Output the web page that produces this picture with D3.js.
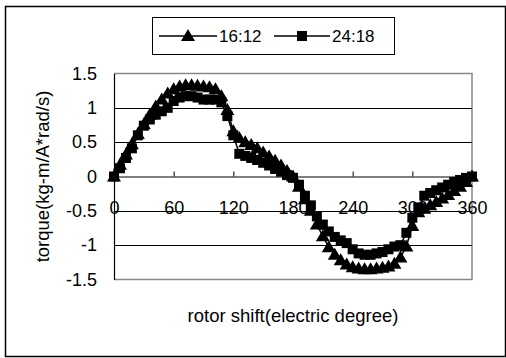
<!DOCTYPE html>
<html>
<head>
<meta charset="utf-8">
<script src="https://cdn.jsdelivr.net/npm/d3@7"></script>
<style>
  body { margin: 0; background: #fff; }
  svg text { font-family: "Liberation Sans", Arial, sans-serif; fill: #000; }
</style>
</head>
<body>
<div id="chart-area"></div>
<script>
// rotor shift in electric degrees (one sample every 6 deg)
let degrees = [0, 6, 12, 18, 24, 30, 36, 42, 48, 54, 60, 66, 72, 78, 84, 90, 96, 102, 108, 114,
	120, 126, 132, 138, 144, 150, 156, 162, 168, 174, 180, 186, 192, 198, 204, 210, 216, 222, 228, 234,
	240, 246, 252, 258, 264, 270, 276, 282, 288, 294, 300, 306, 312, 318, 324, 330, 336, 342, 348, 354, 360];

// torque values
let torque1612 = [0, 0.17, 0.32, 0.47, 0.62, 0.76, 0.9, 1.02, 1.12, 1.21, 1.27, 1.31, 1.33, 1.33, 1.32, 1.31, 1.3, 1.27, 1.17, 0.97,
	0.66, 0.56, 0.5, 0.46, 0.41, 0.35, 0.29, 0.23, 0.16, 0.08, 0, -0.15, -0.33, -0.5, -0.7, -0.87, -1.03, -1.14, -1.22, -1.28,
	-1.32, -1.34, -1.35, -1.35, -1.34, -1.33, -1.31, -1.27, -1.18, -1.02, -0.72, -0.52, -0.47, -0.42, -0.37, -0.32, -0.27, -0.21, -0.15, -0.08, 0];

let torque2418 = [0, 0.12, 0.27, 0.41, 0.6, 0.74, 0.83, 0.9, 0.95, 1.0, 1.1, 1.15, 1.17, 1.17, 1.15, 1.12, 1.12, 1.12, 1.08, 0.88,
	0.6, 0.33, 0.3, 0.27, 0.24, 0.2, 0.16, 0.11, 0.07, 0.02, -0.02, -0.12, -0.28, -0.42, -0.58, -0.7, -0.8, -0.88, -0.93, -0.97,
	-1.06, -1.12, -1.14, -1.14, -1.12, -1.1, -1.06, -1.02, -1.0, -0.82, -0.6, -0.45, -0.28, -0.24, -0.2, -0.16, -0.12, -0.08, -0.05, -0.02, 0];

let seriesNames = ["16:12", "24:18"];
let xTicks = [0, 60, 120, 180, 240, 300, 360];
let yTicks = [-1.5, -1, -0.5, 0, 0.5, 1, 1.5];
let gridValues = [-1, -0.5, 0.5, 1];

let W = 506, H = 358;
let plot = {left: 114, right: 472, top: 73.5, bottom: 279.5};

let svg = d3.select("#chart-area").append("svg")
	.attr("width", W)
	.attr("height", H);

// outer frame
svg.append("rect")
	.attr("x", 5.5).attr("y", 6.5)
	.attr("width", 500).attr("height", 350)
	.attr("fill", "none")
	.attr("stroke", "#000")
	.attr("stroke-width", 1.5);

let xScale = d3.scaleLinear().domain([0, 360]).range([plot.left, plot.right]);
let yScale = d3.scaleLinear().domain([-1.5, 1.5]).range([plot.bottom, plot.top]);

// gray plot border (top, right, bottom)
svg.append("path")
	.attr("d", `M${plot.left},${plot.top}H${plot.right}V${plot.bottom}H${plot.left}`)
	.attr("fill", "none")
	.attr("stroke", "#888")
	.attr("stroke-width", 1.5);

// gridlines
svg.selectAll(".grid")
	.data(gridValues)
	.enter().append("line")
	.attr("class", "grid")
	.attr("x1", plot.left).attr("x2", plot.right)
	.attr("y1", d => Math.round(yScale(d)) + 0.5)
	.attr("y2", d => Math.round(yScale(d)) + 0.5)
	.attr("stroke", "#000")
	.attr("stroke-width", 1);

// y axis (labels only + black line)
let yAxis = d3.axisLeft(yScale)
	.tickValues(yTicks)
	.tickSize(0)
	.tickPadding(17)
	.tickFormat(d3.format("~g"));

let yGroup = svg.append("g")
	.attr("transform", `translate(${plot.left},0)`)
	.call(yAxis);
yGroup.select(".domain").attr("stroke", "#000").attr("stroke-width", 1.2);
yGroup.selectAll("text")
	.attr("font-size", 18)
	.attr("font-family", "Liberation Sans, Arial, sans-serif")
	.text(d => d3.format("~g")(d).replace("−", "-"));

// x axis sits on zero, ticks point up, labels hang below
let xAxis = d3.axisBottom(xScale)
	.tickValues(xTicks)
	.tickSizeInner(-5)
	.tickSizeOuter(0)
	.tickPadding(25)
	.tickFormat(d3.format("d"));

let xGroup = svg.append("g")
	.attr("transform", `translate(0,${yScale(0)})`)
	.call(xAxis);
xGroup.select(".domain").attr("stroke", "#000").attr("stroke-width", 1.2);
xGroup.selectAll(".tick line").attr("stroke", "#000");
xGroup.selectAll("text")
	.attr("font-size", 18)
	.attr("font-family", "Liberation Sans, Arial, sans-serif");

// series
let series = [
	{name: seriesNames[0], values: torque1612, marker: "M0,-7L7,5L-7,5Z"},
	{name: seriesNames[1], values: torque2418, marker: "M-5,-5H5V5H-5Z"}
];

let line = d3.line()
	.x((d, i) => xScale(degrees[i]))
	.y(d => yScale(d));

series.forEach(s => {
	svg.append("path")
		.attr("d", line(s.values))
		.attr("fill", "none")
		.attr("stroke", "#000")
		.attr("stroke-width", 1.5);
});

series.slice().reverse().forEach(s => {
	svg.append("g").selectAll("path")
		.data(s.values)
		.enter().append("path")
		.attr("d", s.marker)
		.attr("transform", (d, i) => `translate(${xScale(degrees[i])},${yScale(d)})`)
		.attr("fill", "#000");
});

// axis titles
svg.append("text")
	.attr("x", (plot.left + plot.right) / 2)
	.attr("y", 322)
	.attr("text-anchor", "middle")
	.attr("font-size", 18.5)
	.text("rotor shift(electric degree)");

svg.append("text")
	.attr("transform", `translate(49,${(plot.top + plot.bottom) / 2}) rotate(-90)`)
	.attr("text-anchor", "middle")
	.attr("font-size", 18.5)
	.text("torque(kg-m/A*rad/s)");

// legend
let legend = svg.append("g");
legend.append("rect")
	.attr("x", 152.5).attr("y", 17.5)
	.attr("width", 242).attr("height", 37)
	.attr("fill", "#fff")
	.attr("stroke", "#000");

let legendItems = [
	{x1: 159, x2: 217, tx: 219, s: series[0]},
	{x1: 274, x2: 330, tx: 332, s: series[1]}
];
legendItems.forEach(it => {
	legend.append("line")
		.attr("x1", it.x1).attr("x2", it.x2)
		.attr("y1", 36).attr("y2", 36)
		.attr("stroke", "#000").attr("stroke-width", 1.5);
	legend.append("path")
		.attr("d", it.s.marker)
		.attr("transform", `translate(${(it.x1 + it.x2) / 2},36)`)
		.attr("fill", "#000");
	legend.append("text")
		.attr("x", it.tx).attr("y", 42)
		.attr("font-size", 17)
		.text(it.s.name);
});
</script>
</body>
</html>
